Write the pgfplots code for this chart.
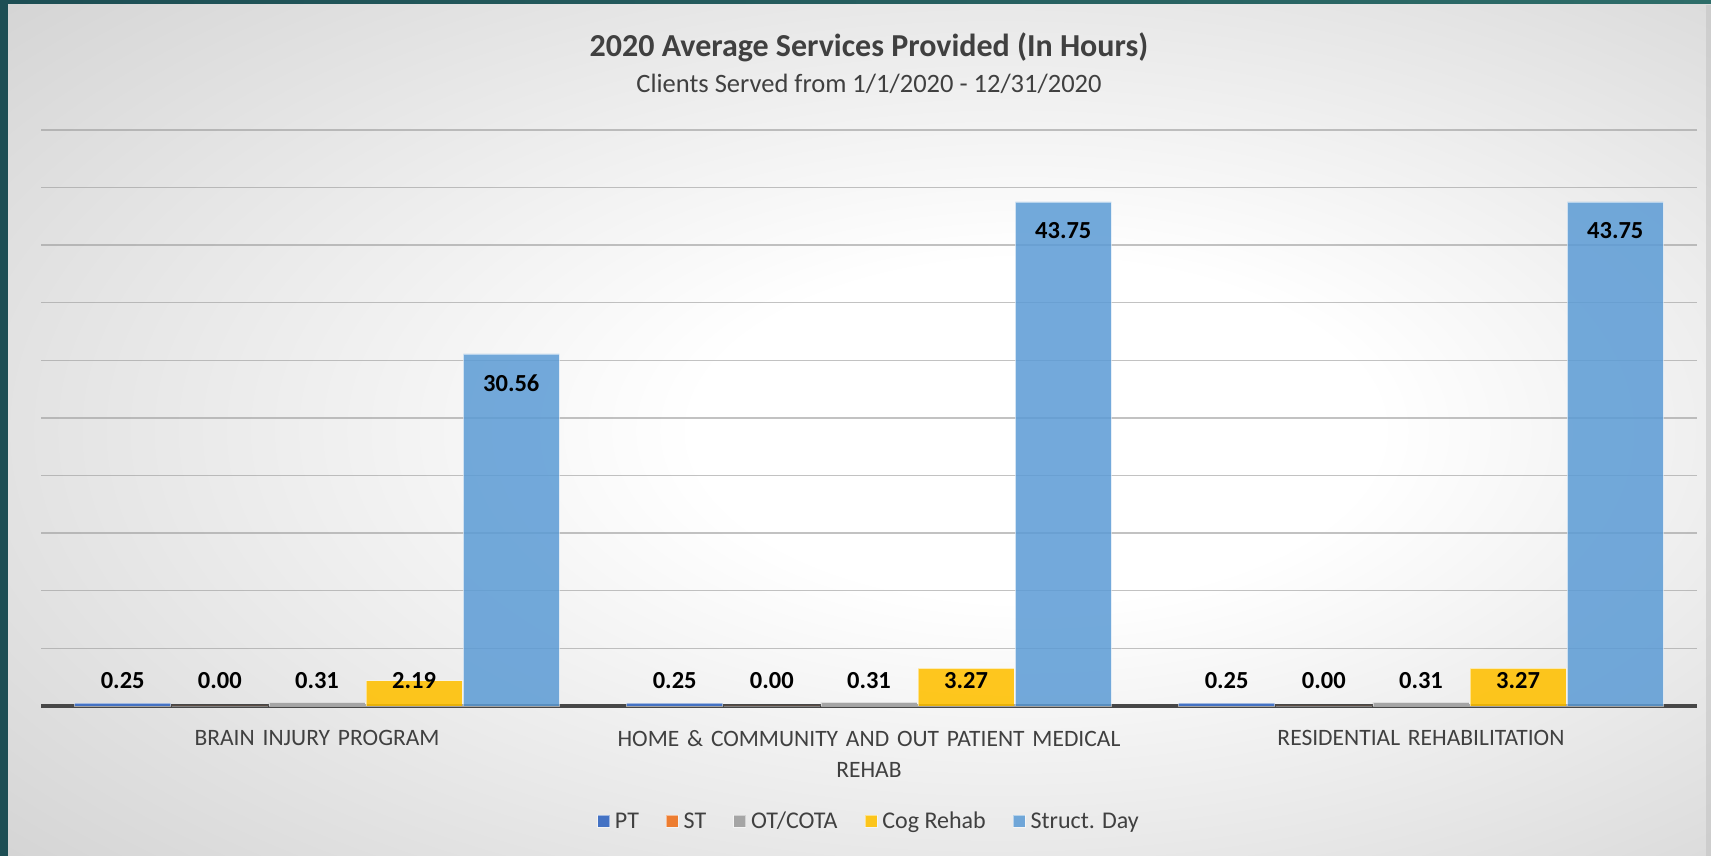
\documentclass[border=0pt]{standalone}
\usepackage{pgfplots}
\pgfplotsset{compat=1.18}
\usepackage{fontspec}
\setmainfont{Carlito}
\definecolor{cPT}{HTML}{4472C4}
\definecolor{cST}{HTML}{ED7D31}
\definecolor{cOT}{HTML}{A5A5A5}
\definecolor{cCog}{HTML}{FFC000}
\definecolor{cSD}{HTML}{5B9BD5}
\definecolor{textc}{HTML}{404040}
\definecolor{basec}{HTML}{474747}
\definecolor{gridc}{HTML}{9A9A9A}
\definecolor{tealL}{HTML}{1D4E54}
\definecolor{tealR}{HTML}{2E6D69}
\definecolor{bgedge}{HTML}{C8C8C8}
\definecolor{bgcorner}{HTML}{BBBBBB}
\pgfdeclareradialshading{bgshade}{\pgfpoint{6bp}{0bp}}{color(0bp)=(white); color(10bp)=(white); color(46bp)=(bgedge); color(75bp)=(bgcorner)}
\begin{document}
\begin{tikzpicture}[x=1pt,y=1pt]
\shade[left color=tealL, right color=tealR] (0,0) rectangle (1711,856);
\shade[shading=bgshade] (8,0) rectangle (1711,851);
\fill[black!25, opacity=0.5] (1706,0) rectangle (1711,851);
\node[anchor=base, font=\bfseries\fontsize{32}{36}\selectfont, text=textc] at (869,799) {2020 Average Services Provided (In Hours)};
\node[anchor=base, font=\fontsize{26.5}{30}\selectfont, text=textc] at (869,763) {Clients Served from 1/1/2020 - 12/31/2020};
\begin{axis}[
  at={(41pt,150pt)}, anchor=south west,
  scale only axis, width=1656pt, height=576pt,
  xmin=-0.5, xmax=2.5, ymin=0, ymax=50,
  axis x line=bottom, axis y line=left,
  x axis line style={-, line width=4pt, color=basec},
  y axis line style={draw=none},
  ytick={5,10,...,50}, yticklabels={},
  major tick length=0pt,
  ymajorgrids=true,
  major grid style={line width=1.4pt, color=gridc, opacity=0.6},
  xtick={0,1,2},
  xticklabels={BRAIN INJURY PROGRAM, {HOME \& COMMUNITY AND OUT PATIENT MEDICAL\\REHAB}, RESIDENTIAL REHABILITATION},
  xticklabel style={font=\fontsize{23.5}{30.5}\selectfont, text=textc, align=center, text width=530pt, yshift=-21pt},
  clip=false,
  legend columns=5,
  legend style={at={(0.5,-0.2)}, anchor=center, draw=none, fill=none,
    font=\fontsize{24}{28}\selectfont, text=textc,
    /tikz/every odd column/.append style={column sep=3pt},
    /tikz/every even column/.append style={column sep=25pt},
    inner sep=0pt},
  legend image code/.code={\draw[#1, draw opacity=0.5, line width=0.8pt] (0pt,-6pt) rectangle (12pt,6pt);},
  every node near coord/.append style={font=\bfseries\fontsize{24.5}{28}\selectfont, text=black, anchor=center},
]
\addplot[ybar, bar shift=0pt, bar width=0.174, fill=cPT, draw=white, draw opacity=0.5, line width=0.8pt] coordinates {(-0.352,0.25) (0.648,0.25) (1.648,0.25)};
\addlegendentry{PT}
\addplot[ybar, bar shift=0pt, bar width=0.174, fill=cST, draw=white, draw opacity=0.5, line width=0.8pt] coordinates {(-0.176,0.00) (0.824,0.00) (1.824,0.00)};
\addlegendentry{ST}
\addplot[ybar, bar shift=0pt, bar width=0.174, fill=cOT, draw=white, draw opacity=0.5, line width=0.8pt] coordinates {(0,0.31) (1,0.31) (2,0.31)};
\addlegendentry{OT/COTA}
\addplot[ybar, bar shift=0pt, bar width=0.174, fill=cCog, fill opacity=0.88, draw=white, draw opacity=0.5, line width=0.8pt] coordinates {(0.176,2.19) (1.176,3.27) (2.176,3.27)};
\addlegendentry{Cog Rehab}
\addplot[ybar, bar shift=0pt, bar width=0.174, fill=cSD, fill opacity=0.85, draw=white, draw opacity=0.5, line width=0.8pt] coordinates {(0.352,30.56) (1.352,43.75) (2.352,43.75)};
\addlegendentry{Struct. Day}
% data labels
\addplot[draw=none, forget plot, nodes near coords, point meta=explicit symbolic] table[meta=lab] {
x y lab
-0.352 2.17 0.25
0.648 2.17 0.25
1.648 2.17 0.25
-0.176 2.17 0.00
0.824 2.17 0.00
1.824 2.17 0.00
0 2.17 0.31
1 2.17 0.31
2 2.17 0.31
0.176 2.17 2.19
1.176 2.17 3.27
2.176 2.17 3.27
0.352 28.06 30.56
1.352 41.25 43.75
2.352 41.25 43.75
};
\end{axis}
\end{tikzpicture}
\end{document}
